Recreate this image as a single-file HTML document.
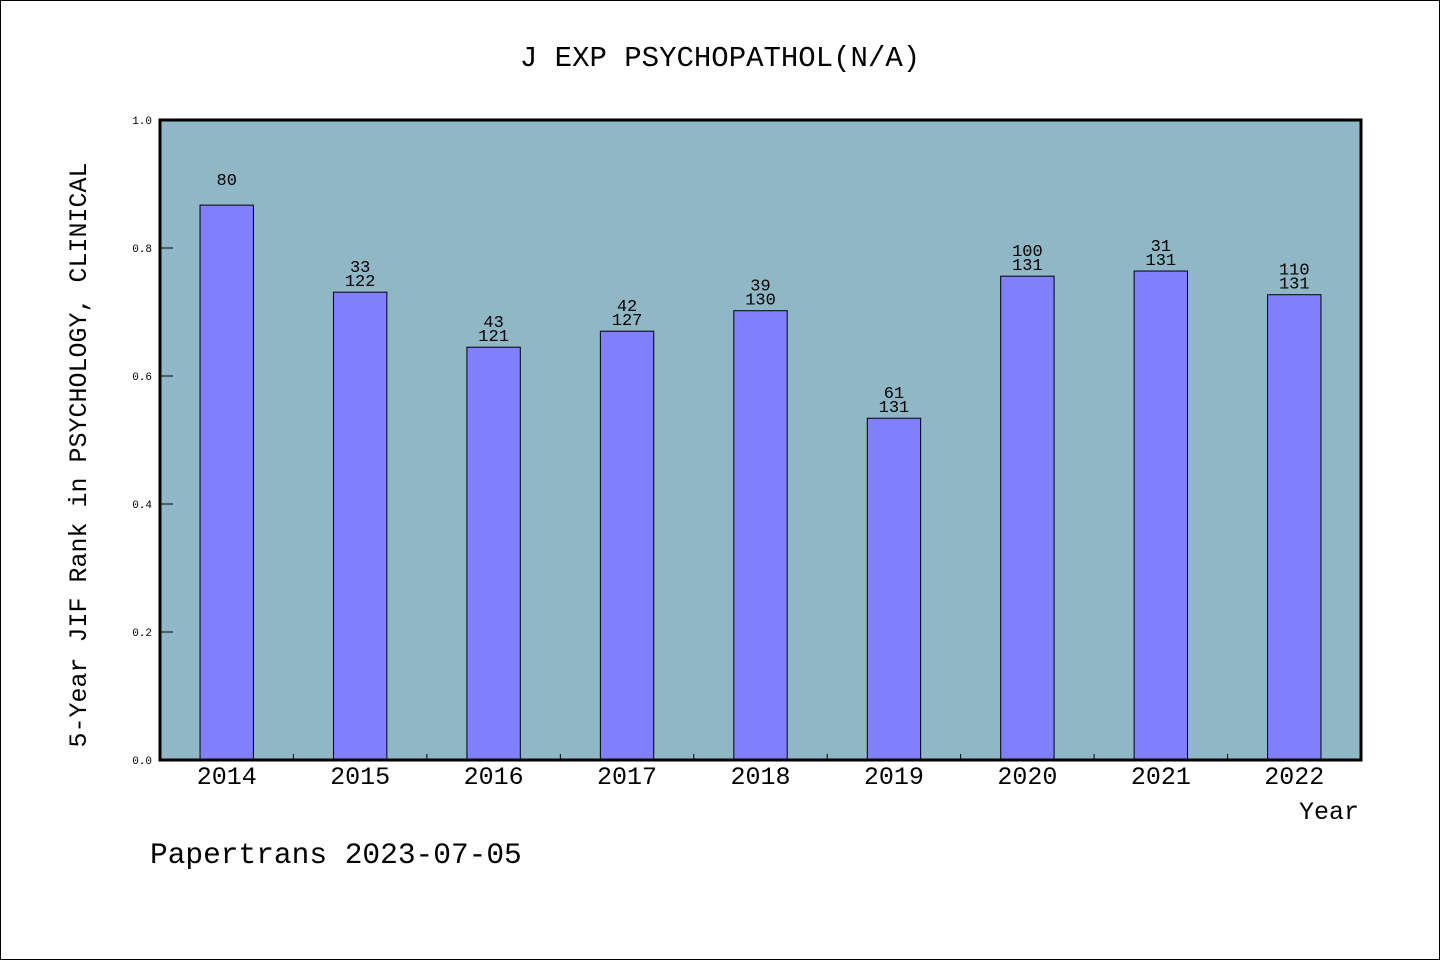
<!DOCTYPE html>
<html><head><meta charset="utf-8"><style>
html,body{margin:0;padding:0;background:#fff}
svg{display:block;font-family:"WenQuanYi Zen Hei","Liberation Mono",monospace}
</style></head><body>
<svg id="chart" width="1440" height="960" viewBox="0 0 1440 960">
<rect x="0.5" y="0.5" width="1439" height="959" fill="#fff" stroke="#000"/>
<text x="720" y="66" text-anchor="middle" font-size="29">J EXP PSYCHOPATHOL(N/A)</text>
<rect x="160" y="120" width="1201" height="640" fill="#8fb7c6"/>
<g id="bars"></g>
<g id="axes"></g>
<rect x="160" y="120" width="1201" height="640" fill="none" stroke="#000" stroke-width="3"/>
<text x="86" y="455" transform="rotate(-90 86 455)" text-anchor="middle" font-size="25">5-Year JIF Rank in PSYCHOLOGY, CLINICAL</text>
<text x="1359" y="819" text-anchor="end" font-size="25">Year</text>
<text x="150" y="863" font-size="29.5">Papertrans 2023-07-05</text>
</svg>
<script>
const years=["2014","2015","2016","2017","2018","2019","2020","2021","2022"];
const values=[0.867,0.731,0.645,0.670,0.702,0.534,0.756,0.764,0.727];
const ranks=["80","33","43","42","39","61","100","31","110"];
const totals=["","122","121","127","130","131","131","131","131"];
const yTicks=[0,0.2,0.4,0.6,0.8,1.0];
const NS="http://www.w3.org/2000/svg";
const L=160,R=1361,T=120,B=760;
const band=(R-L)/years.length;
const xC=i=>L+band*(i+0.5);
const yS=v=>B-(v)*(B-T);
function mk(t,a,p){const e=document.createElementNS(NS,t);for(const k in a)e.setAttribute(k,a[k]);p.appendChild(e);return e;}
const bars=document.getElementById('bars'),axes=document.getElementById('axes');
const bw=band*0.4;
years.forEach((y,i)=>{
  const r=mk('rect',{x:xC(i)-bw/2,y:yS(values[i]),width:bw,height:B-yS(values[i]),fill:'#8080ff',stroke:'#000','stroke-width':1},bars);
  
  
  const t1=mk('text',{x:xC(i),y:yS(values[i])-20,'text-anchor':'middle','font-size':17},bars);
  t1.textContent=ranks[i];
  
  
  const t2=mk('text',{x:xC(i),y:yS(values[i])-6,'text-anchor':'middle','font-size':17},bars);
  t2.textContent=totals[i];
  
  
  const xl=mk('text',{x:xC(i),y:784,'text-anchor':'middle','font-size':25},axes);
  xl.textContent=y;
  
  
  if(i>0){const tk=mk('line',{x1:L+band*i,x2:L+band*i,y1:B,y2:B-6,stroke:'#000'},axes);
  
  }
});
yTicks.forEach(v=>{
  const tk=mk('line',{x1:L,x2:L+13,y1:yS(v),y2:yS(v),stroke:'#000'},axes);
  
  
  const tl=mk('text',{x:152,y:yS(v)+4,'text-anchor':'end','font-size':11},axes);
  tl.textContent=v.toFixed(1);
  
  
});
</script>
</body></html>
